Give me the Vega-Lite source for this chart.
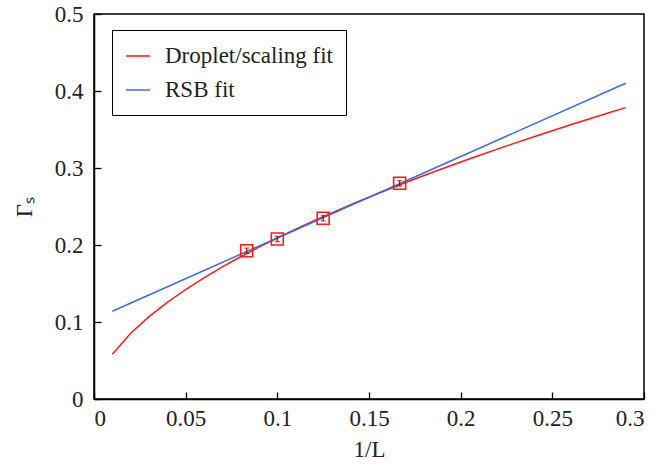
{
  "$schema": "https://vega.github.io/schema/vega-lite/v6.json",
  "width": 550,
  "height": 385,
  "autosize": {"type": "none"},
  "padding": {"left": 94, "top": 14, "right": 20, "bottom": 67},
  "config": {
    "font": "Liberation Serif",
    "view": {"stroke": "black", "strokeWidth": 1.5},
    "axis": {
      "labelFont": "Liberation Serif",
      "titleFont": "Liberation Serif",
      "labelFontSize": 23,
      "titleFontSize": 23,
      "labelColor": "#222",
      "titleColor": "#222",
      "titleFontWeight": "normal",
      "grid": false,
      "domainColor": "black",
      "domainWidth": 1.5,
      "tickColor": "black"
    }
  },
  "datasets": {
    "droplet": [
      {"x": 0.01, "y": 0.058}, {"x": 0.02, "y": 0.0853}, {"x": 0.03, "y": 0.1069},
      {"x": 0.04, "y": 0.1255}, {"x": 0.05, "y": 0.1422}, {"x": 0.06, "y": 0.1573},
      {"x": 0.07, "y": 0.1715}, {"x": 0.08, "y": 0.1847}, {"x": 0.09, "y": 0.1972},
      {"x": 0.10, "y": 0.2091}, {"x": 0.11, "y": 0.2205}, {"x": 0.12, "y": 0.2315},
      {"x": 0.13, "y": 0.2420}, {"x": 0.14, "y": 0.2522}, {"x": 0.15, "y": 0.2621},
      {"x": 0.16, "y": 0.2717}, {"x": 0.17, "y": 0.2811}, {"x": 0.18, "y": 0.2902},
      {"x": 0.19, "y": 0.2990}, {"x": 0.20, "y": 0.3077}, {"x": 0.21, "y": 0.3162},
      {"x": 0.22, "y": 0.3245}, {"x": 0.23, "y": 0.3326}, {"x": 0.24, "y": 0.3406},
      {"x": 0.25, "y": 0.3484}, {"x": 0.26, "y": 0.3561}, {"x": 0.27, "y": 0.3637},
      {"x": 0.28, "y": 0.3711}, {"x": 0.29, "y": 0.3784}
    ],
    "rsb": [
      {"x": 0.01, "y": 0.114}, {"x": 0.29, "y": 0.410}
    ],
    "points": [
      {"x": 0.0833, "y": 0.1926, "lo": 0.1891, "hi": 0.1961},
      {"x": 0.1, "y": 0.2078, "lo": 0.2043, "hi": 0.2113},
      {"x": 0.125, "y": 0.2347, "lo": 0.2312, "hi": 0.2382},
      {"x": 0.1667, "y": 0.2801, "lo": 0.2766, "hi": 0.2836}
    ]
  },
  "layer": [
    {
      "data": {"name": "droplet"},
      "transform": [{"calculate": "'Droplet/scaling fit'", "as": "series"}],
      "mark": {"type": "line", "strokeWidth": 1.5},
      "encoding": {
        "x": {"field": "x", "type": "quantitative", "title": "1/L",
              "scale": {"domain": [0, 0.3], "nice": false, "zero": false},
              "axis": {"title": "1/L", "values": [0, 0.05, 0.1, 0.15, 0.2, 0.25, 0.3],
                       "format": "~g", "tickSize": -7, "tickWidth": 1.3, "labelPadding": 15, "titlePadding": 8}},
        "y": {"field": "y", "type": "quantitative", "title": "Γₛ",
              "scale": {"domain": [0, 0.5], "nice": false, "zero": false},
              "axis": {"title": "Γₛ", "values": [0, 0.1, 0.2, 0.3, 0.4, 0.5],
                       "format": "~g", "tickSize": -7, "tickWidth": 1.3, "labelPadding": 18, "titlePadding": 18}},
        "color": {"field": "series", "type": "nominal",
                  "scale": {"domain": ["Droplet/scaling fit", "RSB fit"], "range": ["#ff1a1a", "#3a6be0"]},
                  "legend": {"title": null, "orient": "none", "legendX": 18, "legendY": 16,
                             "symbolType": "stroke", "symbolSize": 576, "symbolStrokeWidth": 1.5,
                             "labelFont": "Liberation Serif", "labelFontSize": 23, "labelColor": "#222",
                             "strokeColor": "black", "padding": 13, "rowPadding": 9, "labelOffset": 14,
                             "labelLimit": 400, "fillColor": "white"}}
      }
    },
    {
      "data": {"name": "rsb"},
      "transform": [{"calculate": "'RSB fit'", "as": "series"}],
      "mark": {"type": "line", "strokeWidth": 1.5},
      "encoding": {
        "x": {"field": "x", "type": "quantitative", "title": "1/L"},
        "y": {"field": "y", "type": "quantitative", "title": "Γₛ"},
        "color": {"field": "series", "type": "nominal"}
      }
    },
    {
      "data": {"name": "points"},
      "mark": {"type": "errorbar", "ticks": {"size": 5}, "color": "#b00000", "thickness": 1.2},
      "encoding": {
        "x": {"field": "x", "type": "quantitative", "title": "1/L"},
        "y": {"field": "lo", "type": "quantitative", "title": "Γₛ"},
        "y2": {"field": "hi"}
      }
    },
    {
      "data": {"name": "points"},
      "mark": {"type": "point", "shape": "square", "filled": false, "size": 144, "color": "#ff1a1a", "strokeWidth": 1.6, "opacity": 1},
      "encoding": {
        "x": {"field": "x", "type": "quantitative", "title": "1/L"},
        "y": {"field": "y", "type": "quantitative", "title": "Γₛ"}
      }
    }
  ]
}
